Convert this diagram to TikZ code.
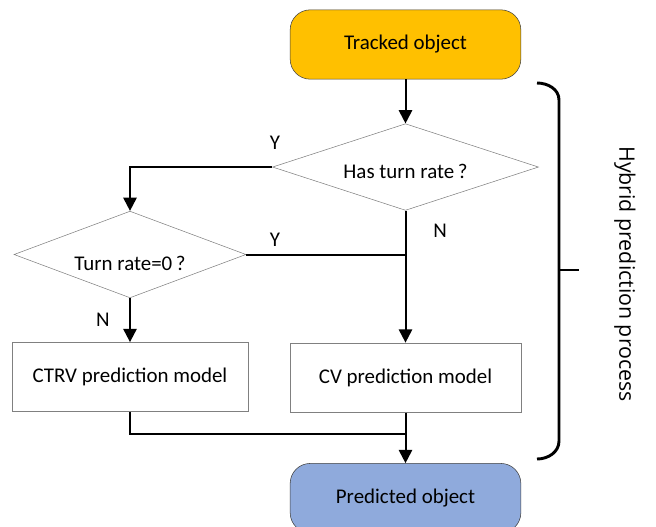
\documentclass[tikz,border=0pt]{standalone}
\usepackage{fontspec}
\setmainfont{Carlito}
\newfontfamily\bracefont{Open Sans}
\usetikzlibrary{arrows.meta, positioning, shapes.geometric}

\definecolor{trackgold}{HTML}{FFC000}
\definecolor{predblue}{HTML}{8FAADC}

\begin{document}
\begin{tikzpicture}[
    x=0.75pt, y=-0.75pt,
    node distance=33pt,
term/.style = {draw=black!75, rounded corners=15pt, minimum width=173pt, minimum height=52pt, align=center},
box/.style = {draw=black!50, minimum width=173pt, minimum height=52pt, align=center},
dia/.style = {draw=black!50, diamond, inner sep=0pt, minimum width=#1, minimum height=65pt},
line/.style = {line width=1.5pt},
arr/.style = {line, -{Triangle[length=10pt, width=10pt]}},
yn/.style = {inner sep=0pt},
     font = \fontsize{15.7}{18}\selectfont
                        ]
\useasboundingbox (0,0) rectangle (656,526);
\node (tr) [term, fill=trackgold] at (405.5,44.5) {Tracked object};
\node (d1) [dia=199.5pt, below=of tr,
            label={[yshift=-3pt]center:Has turn rate\,?}] {};
\node (d2) [dia=174pt,
            label={[yshift=-7pt]center:Turn rate=0\,?}] at (130,254.5) {};
\node (ctrv) [box, minimum width=177pt, below=of d2] {CTRV prediction model};
\node (cv) [box, below=99pt of d1] {CV prediction model};
\node (pred) [term, fill=predblue, below=38pt of cv] {Predicted object};
%
\draw[arr] (tr) -- (d1);
\draw[arr] (d1.west) -| (d2.north);
\draw[arr] (d1.south) -- (cv.north);
\draw[line] (d2.east) -- (d2.east -| cv.north);
\draw[arr] (d2.south) -- (ctrv.north);
\draw[line] (ctrv.south) |- ([yshift=-16pt] cv.south);
\draw[arr] (cv.south) -- (pred.north);
%
\node (y1) [yn] at (275,143) {Y};
\node (y2) [yn] at (275,240) {Y};
\node (n1) [yn] at (440,231) {N};
\node (n2) [yn] at (103,320) {N};
% brace
\draw[line width=2.2pt] (537,83) to[out=0, in=90] (559,100) -- (559,441)
    to[out=-90, in=0] (537,459);
\draw[line width=2.2pt] (559,270) -- (579,270);
\node (hp) [rotate=-90, font=\bracefont\fontsize{16}{18}\selectfont]
    at (625,274) {Hybrid prediction process};
\end{tikzpicture}
\end{document}
